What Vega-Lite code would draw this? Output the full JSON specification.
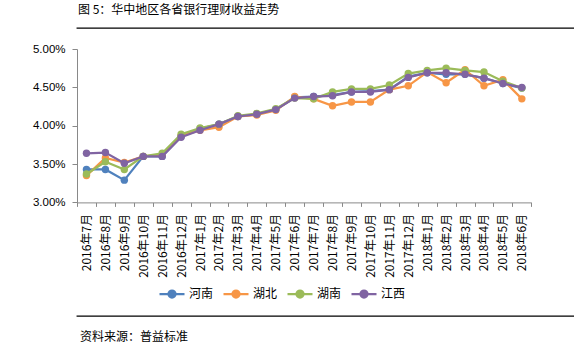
{
  "$schema": "https://vega.github.io/schema/vega-lite/v6.json",
  "padding": {"left": 7, "top": 3, "right": 0, "bottom": 0},
  "background": "white",
  "config": {"view": {"stroke": null}, "font": "Noto Sans CJK SC"},
  "datasets": {
    "rates": [
      {"m": "2016年7月", "s": "河南", "v": 3.43}, {"m": "2016年8月", "s": "河南", "v": 3.43}, {"m": "2016年9月", "s": "河南", "v": 3.29}, {"m": "2016年10月", "s": "河南", "v": 3.60}, {"m": "2016年11月", "s": "河南", "v": 3.60}, {"m": "2016年12月", "s": "河南", "v": 3.86}, {"m": "2017年1月", "s": "河南", "v": 3.96}, {"m": "2017年2月", "s": "河南", "v": 4.02}, {"m": "2017年3月", "s": "河南", "v": 4.12}, {"m": "2017年4月", "s": "河南", "v": 4.15}, {"m": "2017年5月", "s": "河南", "v": 4.21}, {"m": "2017年6月", "s": "河南", "v": 4.37}, {"m": "2017年7月", "s": "河南", "v": 4.38}, {"m": "2017年8月", "s": "河南", "v": 4.40}, {"m": "2017年9月", "s": "河南", "v": 4.44}, {"m": "2017年10月", "s": "河南", "v": 4.45}, {"m": "2017年11月", "s": "河南", "v": 4.47}, {"m": "2017年12月", "s": "河南", "v": 4.64}, {"m": "2018年1月", "s": "河南", "v": 4.69}, {"m": "2018年2月", "s": "河南", "v": 4.67}, {"m": "2018年3月", "s": "河南", "v": 4.67}, {"m": "2018年4月", "s": "河南", "v": 4.62}, {"m": "2018年5月", "s": "河南", "v": 4.55}, {"m": "2018年6月", "s": "河南", "v": 4.49},
      {"m": "2016年7月", "s": "湖北", "v": 3.35}, {"m": "2016年8月", "s": "湖北", "v": 3.58}, {"m": "2016年9月", "s": "湖北", "v": 3.52}, {"m": "2016年10月", "s": "湖北", "v": 3.60}, {"m": "2016年11月", "s": "湖北", "v": 3.62}, {"m": "2016年12月", "s": "湖北", "v": 3.87}, {"m": "2017年1月", "s": "湖北", "v": 3.94}, {"m": "2017年2月", "s": "湖北", "v": 3.98}, {"m": "2017年3月", "s": "湖北", "v": 4.12}, {"m": "2017年4月", "s": "湖北", "v": 4.14}, {"m": "2017年5月", "s": "湖北", "v": 4.20}, {"m": "2017年6月", "s": "湖北", "v": 4.38}, {"m": "2017年7月", "s": "湖北", "v": 4.35}, {"m": "2017年8月", "s": "湖北", "v": 4.26}, {"m": "2017年9月", "s": "湖北", "v": 4.31}, {"m": "2017年10月", "s": "湖北", "v": 4.31}, {"m": "2017年11月", "s": "湖北", "v": 4.47}, {"m": "2017年12月", "s": "湖北", "v": 4.52}, {"m": "2018年1月", "s": "湖北", "v": 4.70}, {"m": "2018年2月", "s": "湖北", "v": 4.56}, {"m": "2018年3月", "s": "湖北", "v": 4.73}, {"m": "2018年4月", "s": "湖北", "v": 4.52}, {"m": "2018年5月", "s": "湖北", "v": 4.60}, {"m": "2018年6月", "s": "湖北", "v": 4.35},
      {"m": "2016年7月", "s": "湖南", "v": 3.37}, {"m": "2016年8月", "s": "湖南", "v": 3.53}, {"m": "2016年9月", "s": "湖南", "v": 3.43}, {"m": "2016年10月", "s": "湖南", "v": 3.60}, {"m": "2016年11月", "s": "湖南", "v": 3.64}, {"m": "2016年12月", "s": "湖南", "v": 3.89}, {"m": "2017年1月", "s": "湖南", "v": 3.97}, {"m": "2017年2月", "s": "湖南", "v": 4.02}, {"m": "2017年3月", "s": "湖南", "v": 4.13}, {"m": "2017年4月", "s": "湖南", "v": 4.16}, {"m": "2017年5月", "s": "湖南", "v": 4.22}, {"m": "2017年6月", "s": "湖南", "v": 4.36}, {"m": "2017年7月", "s": "湖南", "v": 4.35}, {"m": "2017年8月", "s": "湖南", "v": 4.44}, {"m": "2017年9月", "s": "湖南", "v": 4.48}, {"m": "2017年10月", "s": "湖南", "v": 4.48}, {"m": "2017年11月", "s": "湖南", "v": 4.53}, {"m": "2017年12月", "s": "湖南", "v": 4.68}, {"m": "2018年1月", "s": "湖南", "v": 4.72}, {"m": "2018年2月", "s": "湖南", "v": 4.75}, {"m": "2018年3月", "s": "湖南", "v": 4.72}, {"m": "2018年4月", "s": "湖南", "v": 4.70}, {"m": "2018年5月", "s": "湖南", "v": 4.58}, {"m": "2018年6月", "s": "湖南", "v": 4.49},
      {"m": "2016年7月", "s": "江西", "v": 3.64}, {"m": "2016年8月", "s": "江西", "v": 3.65}, {"m": "2016年9月", "s": "江西", "v": 3.51}, {"m": "2016年10月", "s": "江西", "v": 3.60}, {"m": "2016年11月", "s": "江西", "v": 3.60}, {"m": "2016年12月", "s": "江西", "v": 3.85}, {"m": "2017年1月", "s": "江西", "v": 3.94}, {"m": "2017年2月", "s": "江西", "v": 4.02}, {"m": "2017年3月", "s": "江西", "v": 4.12}, {"m": "2017年4月", "s": "江西", "v": 4.15}, {"m": "2017年5月", "s": "江西", "v": 4.21}, {"m": "2017年6月", "s": "江西", "v": 4.36}, {"m": "2017年7月", "s": "江西", "v": 4.38}, {"m": "2017年8月", "s": "江西", "v": 4.39}, {"m": "2017年9月", "s": "江西", "v": 4.44}, {"m": "2017年10月", "s": "江西", "v": 4.44}, {"m": "2017年11月", "s": "江西", "v": 4.47}, {"m": "2017年12月", "s": "江西", "v": 4.63}, {"m": "2018年1月", "s": "江西", "v": 4.69}, {"m": "2018年2月", "s": "江西", "v": 4.69}, {"m": "2018年3月", "s": "江西", "v": 4.67}, {"m": "2018年4月", "s": "江西", "v": 4.62}, {"m": "2018年5月", "s": "江西", "v": 4.55}, {"m": "2018年6月", "s": "江西", "v": 4.50}
    ],
    "none": []
  },
  "spacing": 14,
  "vconcat": [
    {
      "data": {"name": "none"},
      "mark": "rule",
      "encoding": {},
      "width": 556,
      "height": 0.01,
      "view": {"stroke": "#000000", "strokeWidth": 1.3},
      "title": {"text": "图 5：华中地区各省银行理财收益走势", "anchor": "start", "font": "Noto Sans CJK SC", "fontSize": 12, "fontWeight": "normal", "color": "#000000", "offset": 11, "dx": 1}
    },
    {
      "spacing": 37,
      "vconcat": [
        {
          "data": {"name": "rates"},
          "width": 454.3,
          "height": 153.4,
          "encoding": {
            "x": {"field": "m", "type": "ordinal", "sort": null,
              "scale": {"type": "band", "paddingInner": 0, "paddingOuter": 0},
              "axis": {"title": null, "labelAngle": -90, "labelFont": "Noto Sans CJK SC", "labelFontSize": 12, "labelColor": "#000000", "labelPadding": 7, "tickSize": 4, "tickBand": "extent", "domainColor": "#898989", "tickColor": "#898989", "grid": false, "labelOverlap": false, "labelBound": false}},
            "y": {"field": "v", "type": "quantitative",
              "scale": {"domain": [3, 5], "nice": false, "zero": false},
              "axis": {"title": null, "values": [3, 3.5, 4, 4.5, 5], "labelExpr": "format(datum.value, '.2f') + '%'", "labelFont": "Liberation Sans", "labelFontSize": 11.5, "labelColor": "#000000", "tickSize": 5, "labelPadding": 7, "domainColor": "#898989", "tickColor": "#898989", "grid": false, "minExtent": 70}},
            "color": {"field": "s", "type": "nominal",
              "scale": {"domain": ["河南", "湖北", "湖南", "江西"], "range": ["#4F81BD", "#F79646", "#9BBB59", "#8064A2"]},
              "legend": {"title": null, "orient": "none", "legendX": 81, "legendY": 252, "direction": "horizontal", "columns": 4,
                "symbolType": "M-1,0H1M0.28,0A0.28,0.28,0,1,1,-0.28,0A0.28,0.28,0,1,1,0.28,0Z",
                "symbolSize": 625, "symbolStrokeWidth": 2.25, "symbolOpacity": 1,
                "labelFont": "Noto Sans CJK SC", "labelFontSize": 12, "labelColor": "#000000", "labelOffset": 3, "columnPadding": 5,
                "encode": {"symbols": {"update": {"fill": {"scale": "color", "field": "value"}, "stroke": {"scale": "color", "field": "value"}}}}}}
          },
          "layer": [
            {"transform": [{"filter": "datum.s === '河南'"}], "layer": [
              {"mark": {"type": "line", "strokeWidth": 2.25}},
              {"mark": {"type": "point", "filled": true, "size": 55, "opacity": 1}}
            ]},
            {"transform": [{"filter": "datum.s === '湖北'"}], "layer": [
              {"mark": {"type": "line", "strokeWidth": 2.25}},
              {"mark": {"type": "point", "filled": true, "size": 55, "opacity": 1}}
            ]},
            {"transform": [{"filter": "datum.s === '湖南'"}], "layer": [
              {"mark": {"type": "line", "strokeWidth": 2.25}},
              {"mark": {"type": "point", "filled": true, "size": 55, "opacity": 1}}
            ]},
            {"transform": [{"filter": "datum.s === '江西'"}], "layer": [
              {"mark": {"type": "line", "strokeWidth": 2.25}},
              {"mark": {"type": "point", "filled": true, "size": 55, "opacity": 1}}
            ]}
          ]
        },
        {
          "data": {"name": "none"},
          "mark": "rule",
          "encoding": {},
          "width": 556,
          "height": 0.01,
          "view": {"stroke": "#000000", "strokeWidth": 1.3},
          "title": {"text": "资料来源：普益标准", "orient": "bottom", "anchor": "start", "font": "Noto Sans CJK SC", "fontSize": 12, "fontWeight": "normal", "color": "#000000", "offset": 16, "dx": 3}
        }
      ]
    }
  ]
}
